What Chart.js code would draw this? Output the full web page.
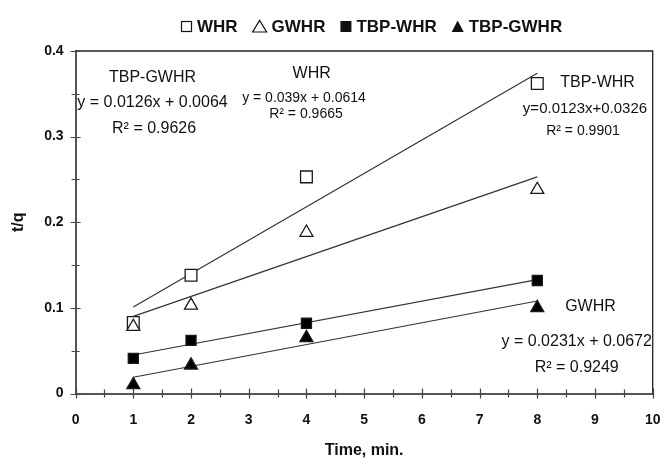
<!DOCTYPE html>
<html>
<head>
<meta charset="utf-8">
<script src="https://cdn.jsdelivr.net/npm/chart.js@4.4.0/dist/chart.umd.min.js"></script>
<style>
html, body { margin: 0; padding: 0; background: #fff; }
</style>
</head>
<body>
<canvas id="kineticsChart" width="664" height="464"></canvas>
<script>
let timeMin = [1, 2, 4, 8];
let whrTq = [0.083, 0.138, 0.253, 0.362];
let gwhrTq = [0.078, 0.103, 0.188, 0.238];
let tbpWhrTq = [0.041, 0.062, 0.082, 0.132];
let tbpGwhrTq = [0.010, 0.033, 0.065, 0.100];

// trendline end points (x = 1 and x = 8)
let fitX = [1, 8];
let whrFit = [0.101, 0.374];
let gwhrFit = [0.090, 0.253];
let tbpWhrFit = [0.045, 0.133];
let tbpGwhrFit = [0.019, 0.108];

let seriesNames = ['WHR', 'GWHR', 'TBP-WHR', 'TBP-GWHR'];
let xTicks = [0, 1, 2, 3, 4, 5, 6, 7, 8, 9, 10];
let xMinorTicks = [0.5, 1.5, 2.5, 3.5, 4.5, 5.5, 6.5, 7.5, 8.5, 9.5];
let yTicks = [0, 0.1, 0.2, 0.3, 0.4];
let yMinorTicks = [0.05, 0.15, 0.25, 0.35];

let fitNotes = [
    { text: 'TBP-GWHR', x: 1.333, y: 0.3634, size: 16 },
    { text: 'y = 0.0126x + 0.0064', x: 1.333, y: 0.3343, size: 16 },
    { text: 'R\u00b2 = 0.9626', x: 1.36, y: 0.3046, size: 16 },
    { text: 'WHR', x: 4.091, y: 0.3681, size: 16 },
    { text: 'y = 0.039x + 0.0614', x: 3.958, y: 0.3408, size: 14 },
    { text: 'R\u00b2 = 0.9665', x: 3.992, y: 0.3214, size: 14 },
    { text: 'TBP-WHR', x: 9.044, y: 0.3583, size: 16 },
    { text: 'y=0.0123x+0.0326', x: 8.827, y: 0.3272, size: 15 },
    { text: 'R\u00b2 = 0.9901', x: 8.792, y: 0.3019, size: 14 },
    { text: 'GWHR', x: 8.922, y: 0.0967, size: 16 },
    { text: 'y = 0.0231x + 0.0672', x: 8.683, y: 0.0555, size: 16 },
    { text: 'R\u00b2 = 0.9249', x: 8.683, y: 0.0255, size: 16 }
];

let fontFamily = '"Liberation Sans", Arial, sans-serif';

function toPoints(xs, ys) {
    let pts = [];
    for (let i = 0; i < xs.length; i++) {
        pts.push({ x: xs[i], y: ys[i] });
    }
    return pts;
}

function pointSet(label, ys, style, radius, fill, order) {
    return {
        label: label,
        data: toPoints(timeMin, ys),
        showLine: false,
        pointStyle: style,
        pointRadius: radius,
        pointBackgroundColor: fill,
        pointBorderColor: '#1a1a1a',
        pointBorderWidth: 1.3,
        order: order
    };
}

function fitSet(ys) {
    return {
        label: 'fit',
        data: toPoints(fitX, ys),
        showLine: true,
        borderColor: '#333',
        borderWidth: 1.2,
        pointRadius: 0,
        order: 10
    };
}

function drawLegendMark(ctx, kind, left, base) {
    ctx.lineWidth = 1.2;
    ctx.strokeStyle = '#111';
    ctx.fillStyle = '#111';
    if (kind == 0) {
        ctx.strokeRect(left + 0.5, base - 10.5, 10, 10);
        return 11;
    }
    if (kind == 2) {
        ctx.fillRect(left, base - 11, 11, 11);
        return 11;
    }
    let w = kind == 1 ? 14 : 12;
    ctx.beginPath();
    ctx.moveTo(left, base);
    ctx.lineTo(left + w, base);
    ctx.lineTo(left + w / 2, base - 11.5);
    ctx.closePath();
    if (kind == 1) ctx.stroke(); else ctx.fill();
    return w;
}

let topLegend = {
    id: 'topLegend',
    afterDraw(chart) {
        let ctx = chart.ctx;
        ctx.save();
        ctx.font = 'bold 17px ' + fontFamily;
        ctx.textBaseline = 'alphabetic';
        ctx.textAlign = 'left';
        let x = 181;
        let base = 32;
        for (let i = 0; i < seriesNames.length; i++) {
            let w = drawLegendMark(ctx, i, x, base);
            x += w + 5;
            ctx.fillStyle = '#111';
            ctx.fillText(seriesNames[i], x, base);
            x += ctx.measureText(seriesNames[i]).width + 15;
        }
        ctx.restore();
    }
};

let axisMarks = {
    id: 'axisMarks',
    afterDraw(chart) {
        let ctx = chart.ctx;
        let area = chart.chartArea;
        let xs = chart.scales.x;
        let ys = chart.scales.y;
        ctx.save();
        ctx.strokeStyle = '#222';
        ctx.lineWidth = 1.3;
        ctx.beginPath();
        ctx.moveTo(area.left, area.top);
        ctx.lineTo(area.right, area.top);
        ctx.lineTo(area.right, area.bottom);
        ctx.stroke();

        ctx.strokeStyle = '#444';
        ctx.lineWidth = 1.2;
        ctx.beginPath();
        xTicks.forEach(v => {
            let px = Math.round(xs.getPixelForValue(v)) + 0.5;
            ctx.moveTo(px, area.bottom - 5);
            ctx.lineTo(px, area.bottom + 5);
        });
        xMinorTicks.forEach(v => {
            let px = Math.round(xs.getPixelForValue(v)) + 0.5;
            ctx.moveTo(px, area.bottom - 4);
            ctx.lineTo(px, area.bottom + 4);
        });
        yTicks.forEach(v => {
            let py = Math.round(ys.getPixelForValue(v)) + 0.5;
            ctx.moveTo(area.left - 5, py);
            ctx.lineTo(area.left + 5, py);
        });
        yMinorTicks.forEach(v => {
            let py = Math.round(ys.getPixelForValue(v)) + 0.5;
            ctx.moveTo(area.left - 4, py);
            ctx.lineTo(area.left + 4, py);
        });
        ctx.stroke();
        ctx.restore();
    }
};

let fitText = {
    id: 'fitText',
    afterDatasetsDraw(chart) {
        let ctx = chart.ctx;
        let xs = chart.scales.x;
        let ys = chart.scales.y;
        ctx.save();
        ctx.fillStyle = '#111';
        ctx.textAlign = 'center';
        ctx.textBaseline = 'alphabetic';
        fitNotes.forEach(n => {
            ctx.font = n.size + 'px ' + fontFamily;
            ctx.fillText(n.text, xs.getPixelForValue(n.x), ys.getPixelForValue(n.y));
        });
        ctx.restore();
    }
};

function renderChart() {
    let ctx = document.getElementById('kineticsChart').getContext('2d');
    let tickFont = { family: fontFamily, size: 14, weight: 'bold' };
    let titleFont = { family: fontFamily, size: 16, weight: 'bold' };
    let chart = new Chart(ctx, {
        type: 'scatter',
        data: {
            datasets: [
                pointSet('GWHR', gwhrTq, 'triangle', 7.5, '#fff', 0),
                pointSet('WHR', whrTq, 'rect', 8.3, '#fff', 1),
                pointSet('TBP-WHR', tbpWhrTq, 'rect', 7.1, '#000', 2),
                pointSet('TBP-GWHR', tbpGwhrTq, 'triangle', 7.5, '#000', 3),
                fitSet(whrFit),
                fitSet(gwhrFit),
                fitSet(tbpWhrFit),
                fitSet(tbpGwhrFit)
            ]
        },
        options: {
            responsive: false,
            devicePixelRatio: 1,
            animation: false,
            layout: { padding: { top: 51, right: 11.3, bottom: 0, left: 0 } },
            plugins: {
                legend: { display: false },
                tooltip: { enabled: false }
            },
            scales: {
                x: {
                    type: 'linear',
                    min: 0,
                    max: 10,
                    afterFit: s => {
                        s.height = 70.5;
                        s.paddingRight = 0;
                        s.paddingLeft = 0;
                    },
                    afterBuildTicks: s => { s.ticks = xTicks.map(v => ({ value: v })); },
                    grid: { display: false, drawTicks: false },
                    border: { display: true, color: '#555', width: 2 },
                    ticks: { color: '#111', font: tickFont, padding: 18, maxRotation: 0, autoSkip: false },
                    title: { display: true, text: 'Time, min.', color: '#111', font: titleFont, padding: { top: 0, bottom: 3.4 } }
                },
                y: {
                    type: 'linear',
                    min: 0,
                    max: 0.4,
                    afterFit: s => { s.width = 75.6; },
                    afterBuildTicks: s => { s.ticks = yTicks.map(v => ({ value: v })); },
                    grid: { display: false, drawTicks: false },
                    border: { display: true, color: '#555', width: 2 },
                    ticks: { color: '#111', font: tickFont, padding: 12, autoSkip: false },
                    title: { display: true, text: 't/q', color: '#111', font: titleFont, padding: { top: 9.4, bottom: 0 } }
                }
            }
        },
        plugins: [axisMarks, fitText, topLegend]
    });
}

renderChart();
</script>
</body>
</html>
